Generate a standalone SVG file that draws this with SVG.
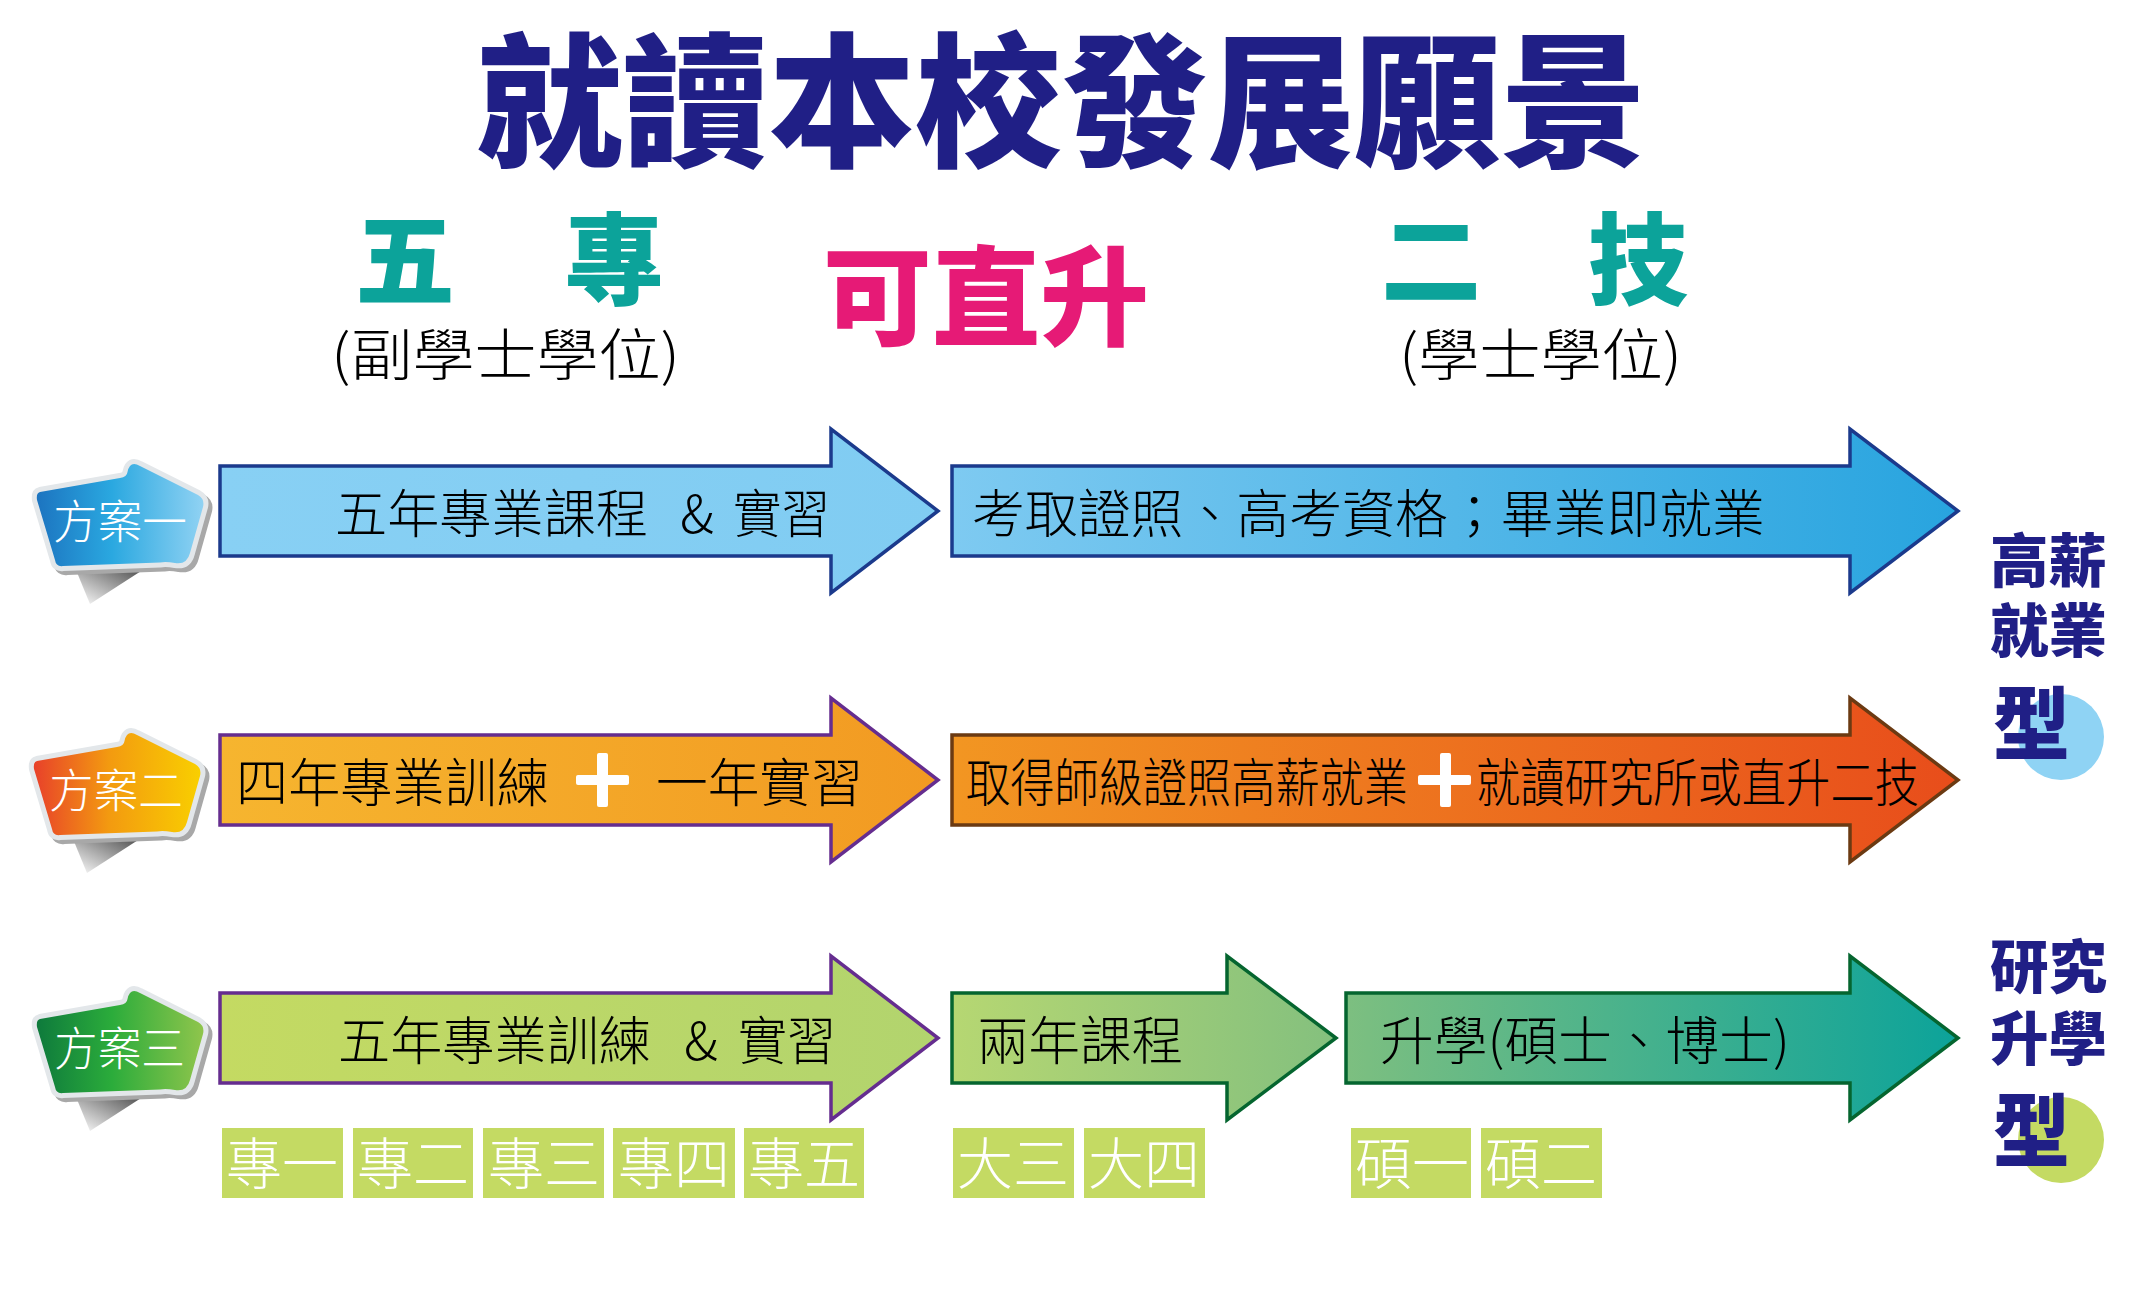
<svg xmlns="http://www.w3.org/2000/svg" xmlns:xlink="http://www.w3.org/1999/xlink" width="2143" height="1289" viewBox="0 0 2143 1289">
<defs>
<style>
.cjk{font-family:"Noto Sans CJK TC","Noto Sans CJK SC",sans-serif;}
.title{font-weight:900;fill:#201f86;font-size:145px;}
.teal{font-weight:900;fill:#0ca39a;font-size:100px;}
.pink{font-weight:900;fill:#e61a76;font-size:108px;}
.sub{font-weight:300;fill:#000;font-size:56px;}
.lbl{font-weight:300;fill:#000;font-size:52px;}
.box{fill:#c4da63;}
.boxt{font-weight:300;fill:#fff;font-size:56px;}
.badget{font-weight:300;fill:#fff;font-size:46px;}
.side{font-weight:900;fill:#201f86;font-size:58px;}
.sidex{font-size:80px;}
.plus{fill:#fff;}
</style>
<linearGradient id="gB1" x1="0" y1="0" x2="1" y2="0"><stop offset="0" stop-color="#88d0f4"/><stop offset="1" stop-color="#80ccf2"/></linearGradient>
<linearGradient id="gB2" x1="0" y1="0" x2="1" y2="0"><stop offset="0" stop-color="#7ecaf1"/><stop offset="1" stop-color="#28a4df"/></linearGradient>
<linearGradient id="gO1" x1="0" y1="0" x2="1" y2="0"><stop offset="0" stop-color="#f6b52f"/><stop offset="1" stop-color="#f29a22"/></linearGradient>
<linearGradient id="gO2" x1="0" y1="0" x2="1" y2="0"><stop offset="0" stop-color="#f29622"/><stop offset="1" stop-color="#e84d1b"/></linearGradient>
<linearGradient id="gG1" x1="0" y1="0" x2="1" y2="0"><stop offset="0" stop-color="#c4da62"/><stop offset="1" stop-color="#b2d46e"/></linearGradient>
<linearGradient id="gG2" x1="0" y1="0" x2="1" y2="0"><stop offset="0" stop-color="#b6d772"/><stop offset="1" stop-color="#84c07e"/></linearGradient>
<linearGradient id="gG3" x1="0" y1="0" x2="1" y2="0"><stop offset="0" stop-color="#7dbf80"/><stop offset="1" stop-color="#0ca39a"/></linearGradient>
<linearGradient id="bd1" x1="0" y1="0" x2="1" y2="0"><stop offset="0" stop-color="#1c74c0"/><stop offset="0.45" stop-color="#2aa8e0"/><stop offset="1" stop-color="#90d2f3"/></linearGradient>
<linearGradient id="bd2" x1="0" y1="0" x2="1" y2="0"><stop offset="0" stop-color="#e8412a"/><stop offset="0.45" stop-color="#f39a10"/><stop offset="1" stop-color="#f9cf00"/></linearGradient>
<linearGradient id="bd3" x1="0" y1="0" x2="1" y2="0"><stop offset="0" stop-color="#0e7a3c"/><stop offset="0.45" stop-color="#2bac3b"/><stop offset="1" stop-color="#8fc54c"/></linearGradient>
<linearGradient id="shd" x1="1" y1="0" x2="0" y2="1"><stop offset="0" stop-color="#333"/><stop offset="1" stop-color="#fff"/></linearGradient>
<path id="bp" d="M40,492 L120,478 Q127,477 127.5,472 Q130,460 140,466 L198,495 Q205,499 203,507 L190,553 Q187,565 175,563 Q166,561.5 160,562.5 L63,566 Q56,567 55,560 L37,500 Q36,493 40,492 Z"/>
<polygon id="bs" points="76,570 152,564 90,604"/>
</defs>
<rect width="2143" height="1289" fill="#fff"/>

<g id="title">
<text class="cjk title" x="476" y="156" textLength="1171" lengthAdjust="spacingAndGlyphs">就讀本校發展願景</text>
</g>

<g id="header-five">
<text class="cjk"><tspan class="teal" x="355" y="297">五</tspan><tspan class="teal" x="564" y="297">專</tspan><tspan class="sub" x="331" y="375" textLength="349" lengthAdjust="spacingAndGlyphs">(副學士學位)</tspan></text>
</g>
<g id="header-up">
<text class="cjk pink" x="823" y="337" textLength="326" lengthAdjust="spacingAndGlyphs">可直升</text>
</g>
<g id="header-two">
<text class="cjk"><tspan class="teal" x="1381" y="297">二</tspan><tspan class="teal" x="1588" y="297">技</tspan><tspan class="sub" x="1399" y="375" textLength="283" lengthAdjust="spacingAndGlyphs">(學士學位)</tspan></text>
</g>

<g id="badge1">
<use xlink:href="#bs" fill="url(#shd)"/>
<use xlink:href="#bp" transform="translate(4,4)" fill="#a8a8a8" stroke="#a8a8a8" stroke-width="10" stroke-linejoin="round"/>
<use xlink:href="#bp" fill="#fff" stroke="#e3e7ea" stroke-width="10" stroke-linejoin="round"/>
<use xlink:href="#bp" fill="url(#bd1)"/>
<text class="cjk badget" x="53" y="538" textLength="134" lengthAdjust="spacingAndGlyphs">方案一</text>
</g>
<g id="badge2" transform="translate(-3,269)">
<use xlink:href="#bs" fill="url(#shd)"/>
<use xlink:href="#bp" transform="translate(4,4)" fill="#a8a8a8" stroke="#a8a8a8" stroke-width="10" stroke-linejoin="round"/>
<use xlink:href="#bp" fill="#fff" stroke="#e3e7ea" stroke-width="10" stroke-linejoin="round"/>
<use xlink:href="#bp" fill="url(#bd2)"/>
<text class="cjk badget" x="52" y="538" textLength="134" lengthAdjust="spacingAndGlyphs">方案二</text>
</g>
<g id="badge3" transform="translate(0,527)">
<use xlink:href="#bs" fill="url(#shd)"/>
<use xlink:href="#bp" transform="translate(4,4)" fill="#a8a8a8" stroke="#a8a8a8" stroke-width="10" stroke-linejoin="round"/>
<use xlink:href="#bp" fill="#fff" stroke="#e3e7ea" stroke-width="10" stroke-linejoin="round"/>
<use xlink:href="#bp" fill="url(#bd3)"/>
<text class="cjk badget" x="54" y="538" textLength="131" lengthAdjust="spacingAndGlyphs">方案三</text>
</g>

<g id="connectors"></g>

<g id="row1-a">
<path d="M220,466 L831,466 L831,429 L938,511 L831,593 L831,556 L220,556 Z" fill="url(#gB1)" stroke="#1b3a8c" stroke-width="3.5"/>
<text class="cjk lbl" x="335" y="533" textLength="313" lengthAdjust="spacingAndGlyphs">五年專業課程</text>
<text class="cjk lbl" x="680" y="533">&amp;</text>
<text class="cjk lbl" x="733" y="533" textLength="97" lengthAdjust="spacingAndGlyphs">實習</text>
</g>
<g id="row1-b">
<path d="M952,466 L1850,466 L1850,429 L1958,511 L1850,593 L1850,556 L952,556 Z" fill="url(#gB2)" stroke="#1b3a8c" stroke-width="3.5"/>
<text class="cjk lbl" x="972" y="533" textLength="793" lengthAdjust="spacingAndGlyphs">考取證照、高考資格；畢業即就業</text>
</g>

<g id="row2-a">
<path d="M220,735 L831,735 L831,698 L938,780 L831,862 L831,825 L220,825 Z" fill="url(#gO1)" stroke="#652d8f" stroke-width="3.5"/>
<text class="cjk lbl" x="236" y="802" textLength="313" lengthAdjust="spacingAndGlyphs">四年專業訓練</text>
<rect class="plus" x="597" y="753" width="11" height="54" rx="2"/>
<rect class="plus" x="576" y="775" width="53" height="10" rx="2"/>
<text class="cjk lbl" x="656" y="802" textLength="207" lengthAdjust="spacingAndGlyphs">一年實習</text>
</g>
<g id="row2-b">
<path d="M952,735 L1850,735 L1850,698 L1958,780 L1850,862 L1850,825 L952,825 Z" fill="url(#gO2)" stroke="#6b3a12" stroke-width="3.5"/>
<text class="cjk lbl" x="966" y="802" textLength="442" lengthAdjust="spacingAndGlyphs">取得師級證照高薪就業</text>
<rect class="plus" x="1440" y="753" width="11" height="54" rx="2"/>
<rect class="plus" x="1418" y="775" width="53" height="10" rx="2"/>
<text class="cjk lbl" x="1476" y="802" textLength="443" lengthAdjust="spacingAndGlyphs">就讀研究所或直升二技</text>
</g>

<g id="row3-a">
<path d="M220,993 L831,993 L831,956 L938,1038 L831,1120 L831,1083 L220,1083 Z" fill="url(#gG1)" stroke="#652d8f" stroke-width="3.5"/>
<text class="cjk lbl" x="338" y="1060" textLength="313" lengthAdjust="spacingAndGlyphs">五年專業訓練</text>
<text class="cjk lbl" x="684" y="1060">&amp;</text>
<text class="cjk lbl" x="738" y="1060" textLength="98" lengthAdjust="spacingAndGlyphs">實習</text>
</g>
<g id="row3-b">
<path d="M952,993 L1227,993 L1227,956 L1336,1038 L1227,1120 L1227,1083 L952,1083 Z" fill="url(#gG2)" stroke="#05652f" stroke-width="3.5"/>
<text class="cjk lbl" x="977" y="1060" textLength="206" lengthAdjust="spacingAndGlyphs">兩年課程</text>
</g>
<g id="row3-c">
<path d="M1346,993 L1850,993 L1850,956 L1958,1038 L1850,1120 L1850,1083 L1346,1083 Z" fill="url(#gG3)" stroke="#05652f" stroke-width="3.5"/>
<text class="cjk lbl" x="1380" y="1060" textLength="410" lengthAdjust="spacingAndGlyphs">升學(碩士、博士)</text>
</g>

<g id="years">
<rect class="box" x="222" y="1128" width="121" height="70"/>
<rect class="box" x="353" y="1128" width="120" height="70"/>
<rect class="box" x="483" y="1128" width="121" height="70"/>
<rect class="box" x="613" y="1128" width="122" height="70"/>
<rect class="box" x="744" y="1128" width="120" height="70"/>
<rect class="box" x="953" y="1128" width="121" height="70"/>
<rect class="box" x="1084" y="1128" width="121" height="70"/>
<rect class="box" x="1351" y="1128" width="120" height="70"/>
<rect class="box" x="1481" y="1128" width="121" height="70"/>
<text class="cjk boxt" x="226" y="1184" textLength="112" lengthAdjust="spacingAndGlyphs">專一</text>
<text class="cjk boxt" x="357" y="1184" textLength="112" lengthAdjust="spacingAndGlyphs">專二</text>
<text class="cjk boxt" x="488" y="1184" textLength="112" lengthAdjust="spacingAndGlyphs">專三</text>
<text class="cjk boxt" x="618" y="1184" textLength="112" lengthAdjust="spacingAndGlyphs">專四</text>
<text class="cjk boxt" x="748" y="1184" textLength="112" lengthAdjust="spacingAndGlyphs">專五</text>
<text class="cjk boxt" x="957" y="1184" textLength="112" lengthAdjust="spacingAndGlyphs">大三</text>
<text class="cjk boxt" x="1088" y="1184" textLength="112" lengthAdjust="spacingAndGlyphs">大四</text>
<text class="cjk boxt" x="1355" y="1184" textLength="114" lengthAdjust="spacingAndGlyphs">碩一</text>
<text class="cjk boxt" x="1485" y="1184" textLength="112" lengthAdjust="spacingAndGlyphs">碩二</text>
</g>

<g id="type-employment">
<circle cx="2061" cy="737" r="43" fill="#8fd3f4"/>
<text class="cjk side"><tspan x="1990" y="582" textLength="117" lengthAdjust="spacingAndGlyphs">高薪</tspan><tspan x="1990" y="652" textLength="117" lengthAdjust="spacingAndGlyphs">就業</tspan><tspan class="sidex" x="1993" y="753" textLength="77" lengthAdjust="spacingAndGlyphs">型</tspan></text>
</g>
<g id="type-research">
<circle cx="2061" cy="1140" r="43" fill="#c4da63"/>
<text class="cjk side"><tspan x="1990" y="988" textLength="117" lengthAdjust="spacingAndGlyphs">研究</tspan><tspan x="1990" y="1060" textLength="117" lengthAdjust="spacingAndGlyphs">升學</tspan><tspan class="sidex" x="1993" y="1160" textLength="77" lengthAdjust="spacingAndGlyphs">型</tspan></text>
</g>
</svg>
